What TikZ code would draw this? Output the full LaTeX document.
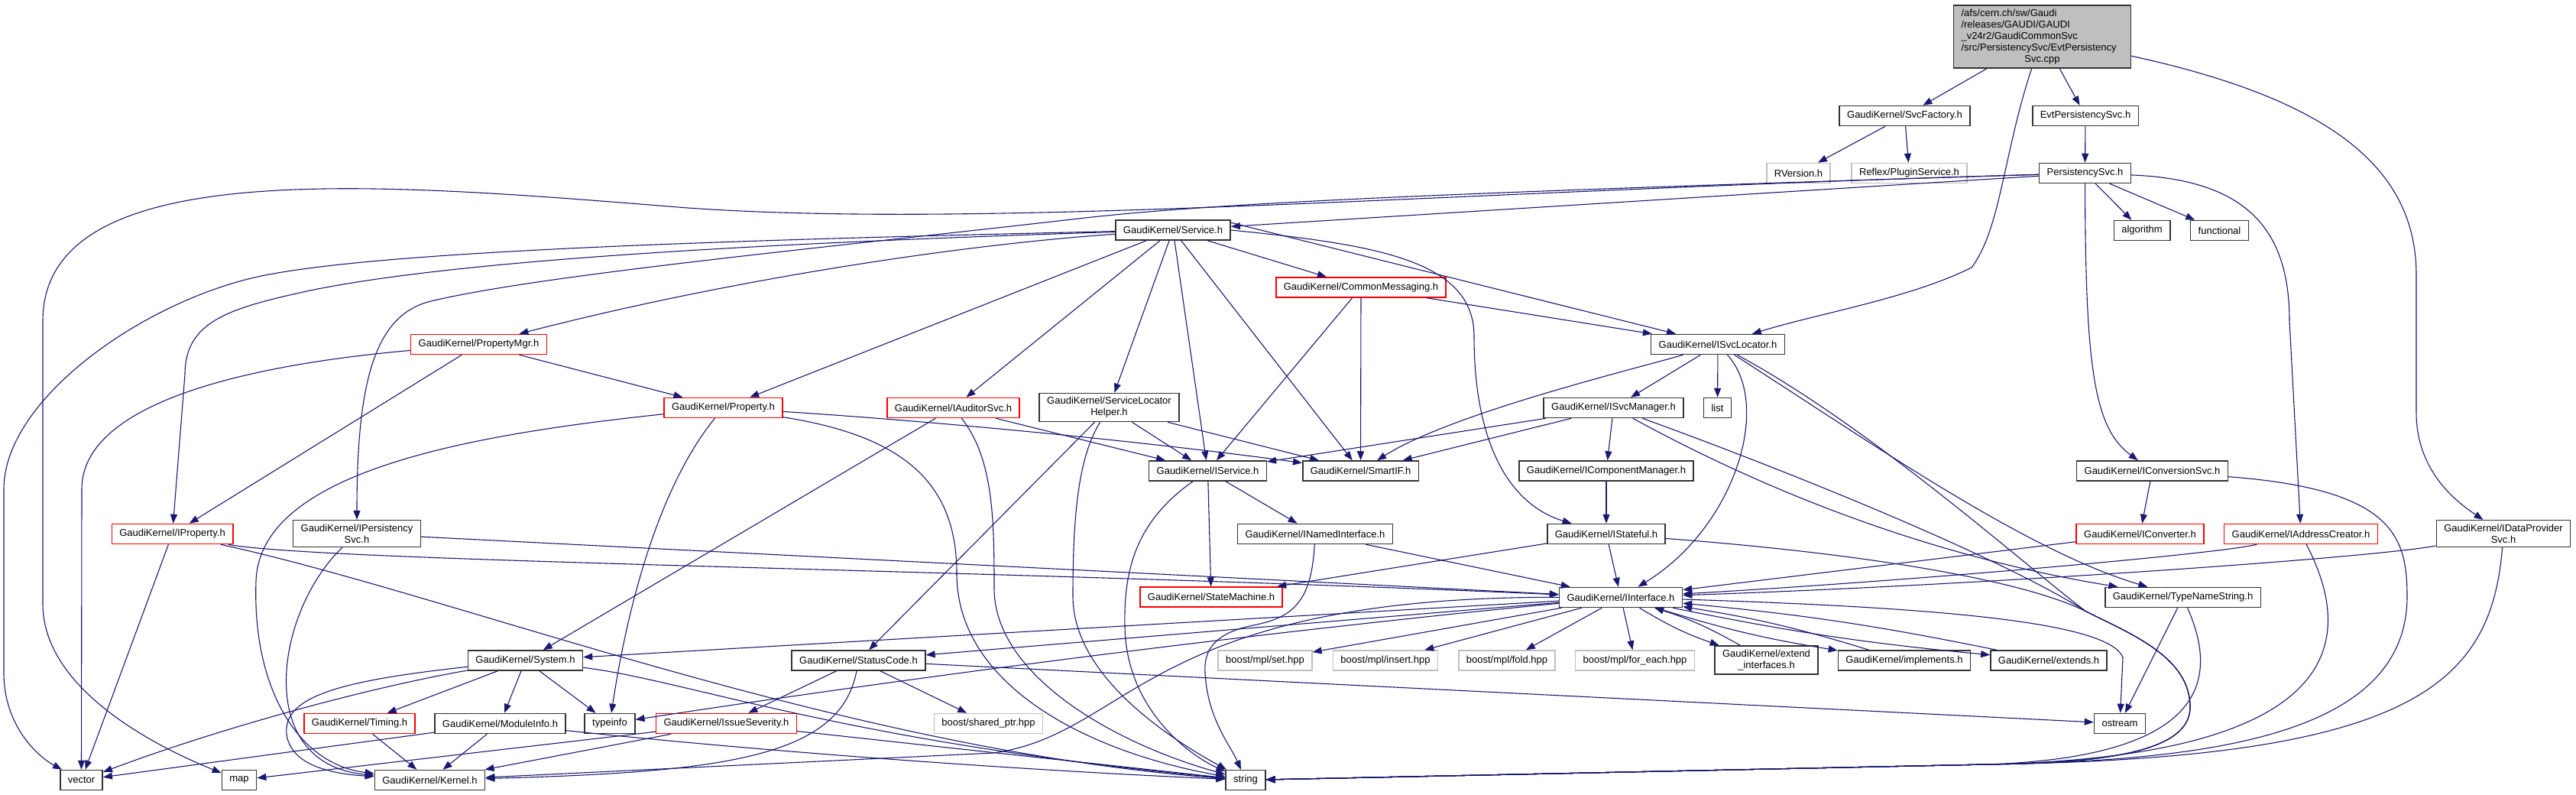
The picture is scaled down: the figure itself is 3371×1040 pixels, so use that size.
\documentclass[tikz,border=0pt]{standalone}
\usepackage{fontspec}
\setmainfont{Liberation Sans}
\usetikzlibrary{arrows.meta}
\definecolor{edgeblue}{HTML}{191970}

\begin{document}
\begin{tikzpicture}[x=1pt, y=1pt,
    hdr/.style={draw=black!80, line width=1.5pt, fill=white, minimum height=26pt, inner xsep=10pt, inner ysep=5pt, align=center, font=\fontsize{13}{15}\selectfont},
    trunc/.style={hdr, draw=red},
    sys/.style={hdr, draw=black!25},
    src/.style={hdr, fill=black!25},
    incl/.style={draw=edgeblue, line width=1.1pt, -{Triangle[length=12pt,width=9pt]}}]
    \useasboundingbox (0,0) rectangle (3371,-1040);

    % draw nodes
    \node[src, text width=212pt, align=left] (root) at (2672.5,-48) {/afs/cern.ch/sw/Gaudi\\/releases/GAUDI/GAUDI\\\_v24r2/GaudiCommonSvc\\/src/PersistencySvc/EvtPersistency\\\makebox[212pt]{Svc.cpp}};
    \node[hdr] (svcfactory) at (2492.5,-151.5) {GaudiKernel/SvcFactory.h};
    \node[hdr] (evtpers) at (2729,-151.5) {EvtPersistencySvc.h};
    \node[sys] (rversion) at (2353.5,-226.5) {RVersion.h};
    \node[sys] (reflex) at (2498.5,-226.5) {Reflex/PluginService.h};
    \node[hdr] (perssvc) at (2728.5,-226.5) {PersistencySvc.h};
    \node[hdr] (algorithm) at (2803,-301.5) {algorithm};
    \node[hdr] (functional) at (2904.5,-301.5) {functional};
    \node[hdr] (service) at (1535,-301) {GaudiKernel/Service.h};
    \node[trunc] (cmsg) at (1781,-376) {GaudiKernel/CommonMessaging.h};
    \node[trunc] (propmgr) at (626.5,-450.5) {GaudiKernel/PropertyMgr.h};
    \node[hdr] (svcloc) at (2248,-450.5) {GaudiKernel/ISvcLocator.h};
    \node[trunc] (property) at (946.5,-533.5) {GaudiKernel/Property.h};
    \node[trunc] (iauditor) at (1247.5,-533.5) {GaudiKernel/IAuditorSvc.h};
    \node[hdr] (slhelper) at (1451.5,-533) {GaudiKernel/ServiceLocator\\Helper.h};
    \node[hdr] (isvcmgr) at (2111.5,-533.5) {GaudiKernel/ISvcManager.h};
    \node[hdr] (list) at (2247.5,-533.5) {list};
    \node[hdr] (iservice) at (1580.5,-616) {GaudiKernel/IService.h};
    \node[hdr] (smartif) at (1780.5,-616) {GaudiKernel/SmartIF.h};
    \node[hdr] (icompmgr) at (2102,-616) {GaudiKernel/IComponentManager.h};
    \node[hdr] (iconvsvc) at (2816.5,-616) {GaudiKernel/IConversionSvc.h};
    \node[trunc] (iproperty) at (225.5,-698.5) {GaudiKernel/IProperty.h};
    \node[hdr] (ipers) at (467,-698) {GaudiKernel/IPersistency\\Svc.h};
    \node[hdr] (inamed) at (1721,-698.5) {GaudiKernel/INamedInterface.h};
    \node[hdr] (istateful) at (2102,-698.5) {GaudiKernel/IStateful.h};
    \node[trunc] (iconverter) at (2800.5,-698.5) {GaudiKernel/IConverter.h};
    \node[trunc] (iaddr) at (3011,-698.5) {GaudiKernel/IAddressCreator.h};
    \node[hdr] (idataprov) at (3276,-698) {GaudiKernel/IDataProvider\\Svc.h};
    \node[trunc] (statemachine) at (1585,-781) {GaudiKernel/StateMachine.h};
    \node[hdr] (iinterface) at (2121,-781.5) {GaudiKernel/IInterface.h};
    \node[hdr] (tnstring) at (2856.5,-781.5) {GaudiKernel/TypeNameString.h};
    \node[hdr] (system) at (687.5,-864) {GaudiKernel/System.h};
    \node[hdr] (statuscode) at (1123.5,-864) {GaudiKernel/StatusCode.h};
    \node[sys] (mplset) at (1655.5,-864) {boost/mpl/set.hpp};
    \node[sys] (mplinsert) at (1813,-864) {boost/mpl/insert.hpp};
    \node[sys] (mplfold) at (1972,-864) {boost/mpl/fold.hpp};
    \node[sys] (mplforeach) at (2139.5,-864) {boost/mpl/for\_each.hpp};
    \node[hdr] (extendif) at (2311.5,-863.5) {GaudiKernel/extend\\\_interfaces.h};
    \node[hdr] (implements) at (2492,-864) {GaudiKernel/implements.h};
    \node[hdr] (extends) at (2681,-864) {GaudiKernel/extends.h};
    \node[trunc] (timing) at (470.5,-946.5) {GaudiKernel/Timing.h};
    \node[hdr] (moduleinfo) at (654.5,-946.5) {GaudiKernel/ModuleInfo.h};
    \node[hdr] (typeinfo) at (798,-946.5) {typeinfo};
    \node[trunc] (issue) at (950.5,-946.5) {GaudiKernel/IssueSeverity.h};
    \node[sys] (sharedptr) at (1293.5,-946.5) {boost/shared\_ptr.hpp};
    \node[hdr] (ostream) at (2774,-946.5) {ostream};
    \node[hdr] (vector) at (106.5,-1020.5) {vector};
    \node[hdr] (map) at (313,-1020.5) {map};
    \node[hdr] (kernel) at (562.5,-1020.5) {GaudiKernel/Kernel.h};
    \node[hdr] (string) at (1630,-1020.5) {string};

    % source file
    \draw[incl] (root) -- (svcfactory);
    \draw[incl] (root) -- (evtpers);
    \draw[incl] (root) .. controls (2622,-200) and (2618,-300) .. (2580,-350) .. controls (2500,-390) and (2380,-410) .. (svcloc);
    \draw[incl] (root) .. controls (3050,-130) and (3162,-220) .. (3162,-360) -- (3162,-540) .. controls (3162,-620) and (3220,-660) .. (idataprov);
    \draw[incl] (svcfactory) -- (rversion);
    \draw[incl] (svcfactory) -- (reflex);
    \draw[incl] (evtpers) -- (perssvc);

    % PersistencySvc.h
    \draw[incl] (perssvc) -- (service);
    \draw[incl] (perssvc) -- (algorithm);
    \draw[incl] (perssvc) -- (functional);
    \draw[incl] (perssvc) .. controls (2729,-480) and (2740,-560) .. (iconvsvc);
    \draw[incl] (perssvc) .. controls (2940,-235) and (2996,-300) .. (2996,-420) -- (iaddr);
    \draw[incl] (perssvc) .. controls (1900,-250) and (1300,-300) .. (900,-272) .. controls (500,-240) and (56,-200) .. (56,-420) -- (56,-790) .. controls (56,-900) and (200,-975) .. (map);
    \draw[incl] (perssvc) .. controls (1900,-252) and (1600,-265) .. (1420,-285) .. controls (1100,-322) and (700,-360) .. (560,-395) .. controls (490,-415) and (467,-500) .. (ipers);

    % Service.h
    \draw[incl] (service) .. controls (900,-315) and (500,-330) .. (347,-360) .. controls (194,-390) and (5,-520) .. (5,-640) -- (5,-880) .. controls (5,-950) and (50,-990) .. (vector);
    \draw[incl] (service) .. controls (1000,-318) and (600,-340) .. (406,-380) .. controls (300,-403) and (242,-420) .. (242,-490) -- (iproperty);
    \draw[incl] (service) .. controls (1232,-322) and (929,-372) .. (propmgr);
    \draw[incl] (service) -- (property);
    \draw[incl] (service) -- (iauditor);
    \draw[incl] (service) -- (slhelper);
    \draw[incl] (service) -- (iservice);
    \draw[incl] (service) -- (smartif);
    \draw[incl] (service) -- (cmsg);
    \draw[incl] ([yshift=-4pt]service.north east) -- (svcloc);
    \draw[incl] (service.east) .. controls (1800,-320) and (1929,-340) .. (1929,-440) .. controls (1929,-580) and (1975,-660) .. (istateful);

    % PropertyMgr.h, Property.h
    \draw[incl] (propmgr) -- (property);
    \draw[incl] (propmgr) -- (iproperty);
    \draw[incl] (propmgr) .. controls (350,-475) and (107,-520) .. (107,-640) -- (vector);
    \draw[incl] (property) .. controls (1224,-551) and (1502,-578) .. (smartif);
    \draw[incl] (property) .. controls (860,-640) and (820,-800) .. (typeinfo);
    \draw[incl] (property) .. controls (1180,-570) and (1252,-630) .. (1252,-750) .. controls (1252,-900) and (1430,-985) .. (string);
    \draw[incl] (property) .. controls (600,-570) and (340,-620) .. (335,-760) .. controls (330,-900) and (390,-1000) .. (kernel);

    % IAuditorSvc.h, ServiceLocatorHelper.h, CommonMessaging.h
    \draw[incl] (iauditor) -- (iservice);
    \draw[incl] (iauditor) -- (system);
    \draw[incl] (iauditor) .. controls (1300,-600) and (1301,-680) .. (1301,-770) .. controls (1301,-880) and (1450,-970) .. (string);
    \draw[incl] (slhelper) -- (iservice);
    \draw[incl] (slhelper) -- (smartif);
    \draw[incl] (slhelper) -- (statuscode);
    \draw[incl] (slhelper) .. controls (1410,-600) and (1404,-680) .. (1404,-780) .. controls (1404,-880) and (1520,-960) .. (string);
    \draw[incl] (cmsg) -- (iservice);
    \draw[incl] (cmsg) -- (smartif);
    \draw[incl] (cmsg) -- (svcloc);

    % ISvcLocator.h, ISvcManager.h
    \draw[incl] (svcloc) .. controls (2150,-480) and (1900,-540) .. (smartif);
    \draw[incl] (svcloc) -- (isvcmgr);
    \draw[incl] (svcloc) -- (list);
    \draw[incl] (svcloc) .. controls (2320,-530) and (2270,-690) .. (iinterface);
    \draw[incl] (svcloc) .. controls (2450,-580) and (2650,-720) .. (tnstring);
    \draw[incl] (svcloc) .. controls (2450,-560) and (2650,-740) .. (2730,-800) .. controls (2790,-830) and (2866,-860) .. (2866,-925) .. controls (2866,-985) and (2750,-998) .. (2600,-1000) -- (string);
    \draw[incl] (isvcmgr) -- (iservice);
    \draw[incl] (isvcmgr) -- (smartif);
    \draw[incl] (isvcmgr) -- (icompmgr);
    \draw[incl] (isvcmgr) .. controls (2380,-680) and (2600,-740) .. (tnstring);
    \draw[incl] (isvcmgr) .. controls (2350,-620) and (2620,-730) .. (2730,-800) .. controls (2790,-830) and (2866,-860) .. (2866,-925) .. controls (2866,-985) and (2750,-998) .. (2600,-1000) -- (string);

    % IComponentManager.h, IStateful.h
    \draw[incl] (icompmgr) -- (istateful);
    \draw[incl] (istateful) -- (iinterface);
    \draw[incl] (istateful) -- (statemachine);
    \draw[incl] (istateful) .. controls (2450,-725) and (2650,-760) .. (2730,-800) .. controls (2790,-830) and (2866,-860) .. (2866,-925) .. controls (2866,-985) and (2750,-998) .. (2600,-1000) -- (string);

    % IService.h, INamedInterface.h
    \draw[incl] (iservice) -- (inamed);
    \draw[incl] (iservice) -- (statemachine);
    \draw[incl] (iservice) .. controls (1490,-680) and (1470,-740) .. (1472,-820) .. controls (1474,-930) and (1560,-990) .. (string);
    \draw[incl] (inamed) -- (iinterface);
    \draw[incl] (inamed) .. controls (1716,-790) and (1690,-808) .. (1640,-818) .. controls (1590,-828) and (1575,-850) .. (1577,-880) .. controls (1580,-940) and (1610,-975) .. (string);

    % IProperty.h, IPersistencySvc.h
    \draw[incl] (iproperty) -- (vector);
    \draw[incl] (iproperty) .. controls (420,-735) and (1300,-745) .. (iinterface);
    \draw[incl] (iproperty) .. controls (600,-780) and (1100,-980) .. (string);
    \draw[incl] (ipers) -- (iinterface);
    \draw[incl] (ipers) .. controls (360,-800) and (330,-1000) .. (kernel);

    % conversion, address and data provider interfaces
    \draw[incl] (iconvsvc) -- (iconverter);
    \draw[incl] (iconvsvc) .. controls (3130,-640) and (3150,-700) .. (3150,-780) .. controls (3150,-960) and (2900,-995) .. (2600,-1000) -- (string);
    \draw[incl] (iconverter) -- (iinterface);
    \draw[incl] (iaddr) .. controls (2900,-725) and (2500,-760) .. (iinterface);
    \draw[incl] (iaddr) .. controls (3090,-850) and (3050,-990) .. (2600,-1000) -- (string);
    \draw[incl] (idataprov) .. controls (3100,-730) and (2600,-765) .. (iinterface);
    \draw[incl] (idataprov) .. controls (3260,-900) and (3150,-992) .. (2600,-1000) -- (string);
    \draw[incl] (tnstring) -- (ostream);
    \draw[incl] (tnstring) .. controls (2900,-880) and (2900,-990) .. (2600,-1000) -- (string);

    % IInterface.h
    \draw[incl] (iinterface) -- (system);
    \draw[incl] (iinterface) -- (statuscode);
    \draw[incl] (iinterface) .. controls (1680,-824) and (1239,-879) .. (typeinfo);
    \draw[incl] (iinterface) .. controls (1500,-780) and (1480,-960) .. (1300,-985) -- (kernel);
    \draw[incl] (iinterface) -- (mplset);
    \draw[incl] (iinterface) -- (mplinsert);
    \draw[incl] (iinterface) -- (mplfold);
    \draw[incl] (iinterface) -- (mplforeach);
    \draw[incl] (iinterface) to[bend right=6] (extendif);
    \draw[incl] (extendif) to[bend right=6] (iinterface);
    \draw[incl] (iinterface) to[bend right=4] (implements);
    \draw[incl] (implements) to[bend right=4] (iinterface);
    \draw[incl] (iinterface) to[bend right=3] (extends);
    \draw[incl] (extends) to[bend right=3] (iinterface);
    \draw[incl] (iinterface) .. controls (2550,-795) and (2760,-815) .. (2778,-860) -- (ostream);

    % System.h, StatusCode.h and below
    \draw[incl] (system) -- (timing);
    \draw[incl] (system) -- (moduleinfo);
    \draw[incl] (system) -- (typeinfo);
    \draw[incl] (system) .. controls (490,-898) and (295,-950) .. (vector);
    \draw[incl] (system) .. controls (450,-890) and (370,-910) .. (375,-960) .. controls (380,-1000) and (430,-1012) .. (kernel);
    \draw[incl] (system) .. controls (900,-890) and (1100,-970) .. (string);
    \draw[incl] (timing) -- (kernel);
    \draw[incl] (moduleinfo) -- (kernel);
    \draw[incl] (moduleinfo) -- (vector);
    \draw[incl] (moduleinfo) .. controls (980,-981) and (1305,-1006) .. (string);
    \draw[incl] (statuscode) -- (issue);
    \draw[incl] (statuscode) -- (sharedptr);
    \draw[incl] (statuscode) .. controls (1100,-990) and (950,-1010) .. (kernel);
    \draw[incl] (statuscode) -- (ostream);
    \draw[incl] (issue) -- (kernel);
    \draw[incl] (issue) -- (map);
    \draw[incl] (issue) -- (string);
\end{tikzpicture}
\end{document}
